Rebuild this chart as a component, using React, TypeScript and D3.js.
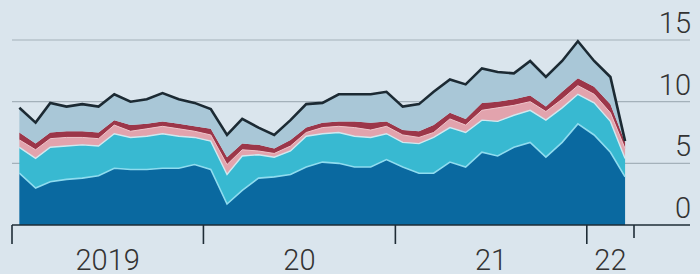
import React from 'react';
import * as d3 from 'd3';

// monthly, Jan 2019 - Mar 2022
const months = [
  '2019-01', '2019-02', '2019-03', '2019-04', '2019-05', '2019-06', '2019-07', '2019-08', '2019-09', '2019-10', '2019-11', '2019-12',
  '2020-01', '2020-02', '2020-03', '2020-04', '2020-05', '2020-06', '2020-07', '2020-08', '2020-09', '2020-10', '2020-11', '2020-12',
  '2021-01', '2021-02', '2021-03', '2021-04', '2021-05', '2021-06', '2021-07', '2021-08', '2021-09', '2021-10', '2021-11', '2021-12',
  '2022-01', '2022-02', '2022-03',
];

const blue = [4.2, 3.0, 3.5, 3.7, 3.8, 4.0, 4.6, 4.5, 4.5, 4.6, 4.6, 4.9, 4.5, 1.7, 2.8, 3.8, 3.9, 4.1, 4.7, 5.1, 5.0, 4.7, 4.7, 5.3, 4.7, 4.2, 4.2, 5.1, 4.7, 5.9, 5.6, 6.3, 6.7, 5.5, 6.7, 8.2, 7.3, 5.9, 3.9];
const cyan = [2.1, 2.4, 2.8, 2.7, 2.7, 2.4, 2.8, 2.6, 2.7, 2.8, 2.6, 2.2, 2.3, 2.4, 2.8, 1.9, 1.6, 1.9, 2.5, 2.3, 2.5, 2.5, 2.4, 2.1, 2.0, 2.4, 2.9, 2.8, 2.8, 2.6, 2.8, 2.6, 2.6, 3.0, 2.8, 2.4, 2.6, 2.5, 1.5];
const pink = [0.6, 0.7, 0.7, 0.7, 0.6, 0.6, 0.7, 0.5, 0.6, 0.6, 0.6, 0.5, 0.5, 0.8, 0.5, 0.3, 0.3, 0.4, 0.3, 0.5, 0.5, 0.7, 0.6, 0.6, 0.6, 0.5, 0.4, 0.7, 0.6, 0.8, 1.1, 0.8, 0.7, 0.7, 0.7, 0.7, 0.7, 0.7, 0.8];
const red = [0.6, 0.5, 0.5, 0.5, 0.5, 0.5, 0.4, 0.5, 0.4, 0.4, 0.4, 0.4, 0.5, 0.6, 0.5, 0.5, 0.4, 0.5, 0.4, 0.4, 0.4, 0.5, 0.6, 0.4, 0.4, 0.5, 0.6, 0.5, 0.5, 0.6, 0.5, 0.5, 0.5, 0.4, 0.6, 0.6, 0.6, 0.7, 0.5];
const grey = [2.0, 1.7, 2.4, 2.0, 2.2, 2.1, 2.1, 1.9, 2.0, 2.3, 2.0, 1.9, 1.6, 1.8, 2.0, 1.4, 1.1, 1.6, 1.9, 1.6, 2.2, 2.2, 2.3, 2.4, 1.9, 2.2, 2.7, 2.7, 2.8, 2.8, 2.4, 2.1, 2.8, 2.4, 2.5, 3.0, 2.1, 2.2, 0.1];

const yTicks = [0, 5, 10, 15];
const yearTicks = ['2019-01-01', '2020-01-01', '2021-01-01', '2022-01-01', '2022-04-01'];
const yearLabels = ['2019', '20', '21', '22'];

const keys = ['blue', 'cyan', 'pink', 'red', 'grey'];
const fills: Record<string, string> = {
  blue: '#0a69a0',
  cyan: '#38b9d1',
  pink: '#e2a3ad',
  red: '#9c3649',
  grey: '#a9c7d7',
};

export default function App() {
  const width = 700;
  const height = 274;
  const parseDay = d3.timeParse('%Y-%m-%d');

  const x = d3.scaleTime()
    .domain([parseDay('2019-01-01') as Date, parseDay('2022-04-01') as Date])
    .range([12, 634]);
  const y = d3.scaleLinear().domain([0, 15]).range([225, 40]);

  const table = months.map((m, i) => ({
    date: parseDay(m + '-15') as Date,
    blue: blue[i],
    cyan: cyan[i],
    pink: pink[i],
    red: red[i],
    grey: grey[i],
  }));

  const series = d3.stack<any>().keys(keys)(table);

  const areaGen = d3.area<any>()
    .x(d => x(d.data.date))
    .y0(d => y(d[0]))
    .y1(d => y(d[1]));

  const lineGen = d3.line<any>()
    .x(d => x(d.data.date))
    .y(d => y(d[1]));

  const font = 'Roboto, "Liberation Sans", sans-serif';

  return (
    <svg width={width} height={height} style={{ position: 'absolute', left: 0, top: 0 }}>
      <rect x={0} y={0} width={width} height={height} fill="#dae5ed" />
      {yTicks.filter(t => t > 0).map(t => (
        <line key={'g' + t} x1={12} x2={690} y1={y(t)} y2={y(t)} stroke="#a4b1ba" strokeWidth={1.2} />
      ))}
      {series.map(s => (
        <path key={s.key} d={areaGen(s) || ''} fill={fills[s.key]} />
      ))}
      <path d={lineGen(series[0]) || ''} fill="none" stroke="#8fdcef" strokeWidth={1.6} />
      <path d={lineGen(series[1]) || ''} fill="none" stroke="#cfe9f0" strokeWidth={1.4} />
      <path d={lineGen(series[2]) || ''} fill="none" stroke="#efc3c9" strokeWidth={1} />
      <path d={lineGen(series[4]) || ''} fill="none" stroke="#1c2a33" strokeWidth={2.6} strokeLinejoin="miter" />
      <line x1={12} x2={690} y1={y(0)} y2={y(0)} stroke="#1e2c36" strokeWidth={1.6} />
      {yearTicks.map((t, i) => (
        <line
          key={'t' + t}
          x1={x(parseDay(t) as Date)}
          x2={x(parseDay(t) as Date)}
          y1={y(0)}
          y2={i === yearTicks.length - 1 ? 238 : 244}
          stroke="#1e2c36"
          strokeWidth={1.6}
        />
      ))}
      {yearLabels.map((lab, i) => {
        const a = x(parseDay(yearTicks[i]) as Date);
        const b = x(parseDay(yearTicks[i + 1]) as Date);
        return (
          <text key={lab} x={(a + b) / 2} y={270} textAnchor="middle" fontFamily={font} fontWeight={300} fontSize={29} fill="#333">
            {lab}
          </text>
        );
      })}
      {yTicks.map(t => (
        <text key={'l' + t} x={691} y={y(t) - 7} textAnchor="end" fontFamily={font} fontWeight={300} fontSize={29} fill="#333">
          {t}
        </text>
      ))}
    </svg>
  );
}
